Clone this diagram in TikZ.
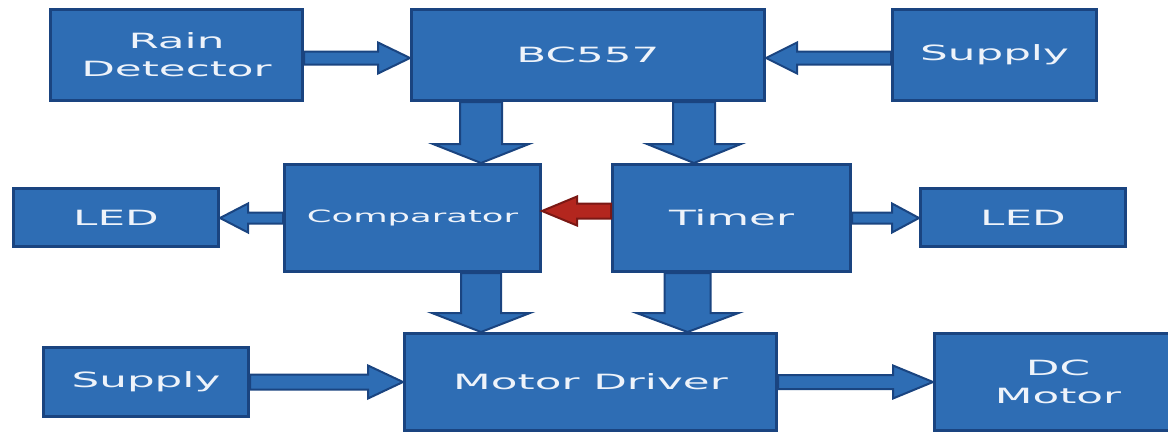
\documentclass[tikz,border=0pt]{standalone}
\usepackage{fontspec}
\setmainfont{DejaVu Sans}
\usepackage{graphicx}
\definecolor{bdblue}{HTML}{2E6DB4}
\definecolor{bdline}{HTML}{1A4480}
\definecolor{bdtext}{HTML}{EEF3FA}
\definecolor{bdred}{HTML}{B3261E}
\definecolor{bdredline}{HTML}{7A1814}
\usetikzlibrary{calc}

% wide lettering of the blocks
\newcommand{\hstr}[1]{\scalebox{2.08}[1]{#1}}
% block arrow: [style]{from}{to}{shaft half}{head half}{head length}
\newcommand{\blockarrow}[6][barw]{%
  \coordinate (ba-h) at ($(#3)!#6!(#2)$);
  \draw[#1] ($(#2)!#4!90:(#3)$) -- ($(ba-h)!#4!90:(#3)$)
    -- ($(ba-h)!#5!90:(#3)$) -- (#3) -- ($(ba-h)!#5!-90:(#3)$)
    -- ($(ba-h)!#4!-90:(#3)$) -- ($(#2)!#4!-90:(#3)$) -- cycle;}

\begin{document}
\begin{tikzpicture}[x=1pt, y=-1pt,
      blk/.style={draw=bdline, fill=bdblue, line width=3pt, text=bdtext,
                  align=center, inner sep=0pt, font=\fontsize{21}{28}\selectfont},
      barw/.style={draw=bdline, fill=bdblue, line width=2pt},
      redarw/.style={barw, draw=bdredline, fill=bdred},
    ]
    \useasboundingbox (0,0) rectangle (1168,434);

    % ---------- top row ----------
    \node[blk, minimum width=252pt, minimum height=91pt] (rain) at (176.5,55)
      {\hstr{Rain}\\\hstr{Detector}};
    \node[blk, minimum width=353pt, minimum height=91pt] (bc) at (588,55)
      {\hstr{BC557}};
    \node[blk, minimum width=204pt, minimum height=91pt] (sup1) at (994.5,55)
      {\hstr{Supply}};

    % ---------- middle row ----------
    \node[blk, minimum width=205pt, minimum height=58pt] (led1) at (116,217.5)
      {\hstr{LED}};
    \node[blk, minimum width=256pt, minimum height=107pt,
          font=\fontsize{17}{20}\selectfont] (cmp) at (412.5,218)
      {\hstr{Comparator}};
    \node[blk, minimum width=238pt, minimum height=107pt] (tim) at (731.5,218)
      {\hstr{Timer}};
    \node[blk, minimum width=205pt, minimum height=58pt] (led2) at (1023,217.5)
      {\hstr{LED}};

    % ---------- bottom row ----------
    \node[blk, minimum width=205pt, minimum height=69pt] (sup2) at (146,382)
      {\hstr{Supply}};
    \node[blk, minimum width=372pt, minimum height=97pt] (md) at (590.5,382)
      {\hstr{Motor Driver}};
    \node[blk, minimum width=247pt, minimum height=97pt] (dcm) at (1058,382)
      {\hstr{DC}\\\hstr{Motor}};

    % ---------- arrow ends ----------
    \coordinate (r1) at ([yshift=-3pt]rain.east);
    \coordinate (r2) at (r1 -| bc.west);
    \coordinate (s1) at ([yshift=-3pt]sup1.west);
    \coordinate (s2) at (s1 -| bc.east);
    \coordinate (b1) at ([xshift=71pt]bc.south west);
    \coordinate (b2) at (b1 |- cmp.north);
    \coordinate (b3) at ([xshift=-72pt]bc.south east);
    \coordinate (b4) at (b3 |- tim.north);
    \coordinate (c1) at (b1 |- cmp.south);
    \coordinate (c2) at (c1 |- md.north);
    \coordinate (t1) at ([xshift=-44pt]tim.south);
    \coordinate (t2) at (t1 |- md.north);
    \coordinate (m1) at ([yshift=7pt]tim.west);
    \coordinate (m2) at (m1 -| cmp.east);

    % ---------- flow ----------
    \blockarrow{r1}{r2}{6.5pt}{15.5pt}{32pt}
    \blockarrow{s1}{s2}{6.5pt}{15.5pt}{31pt}
    \blockarrow{b1}{b2}{21pt}{48pt}{19pt}
    \blockarrow{b3}{b4}{21pt}{47pt}{19pt}
    \blockarrow{c1}{c2}{20pt}{49pt}{19pt}
    \blockarrow{t1}{t2}{23pt}{51pt}{19pt}
    \blockarrow{cmp.west}{cmp.west -| led1.east}{5.5pt}{14.5pt}{28pt}
    \blockarrow{tim.east}{tim.east -| led2.west}{5.5pt}{14.5pt}{27pt}
    \blockarrow[redarw]{m1}{m2}{7.5pt}{14.5pt}{35pt}
    \blockarrow{sup2.east}{sup2.east -| md.west}{7.5pt}{16.5pt}{35pt}
    \blockarrow{md.east}{md.east -| dcm.west}{7pt}{16.5pt}{40pt}

  \end{tikzpicture}
\end{document}
